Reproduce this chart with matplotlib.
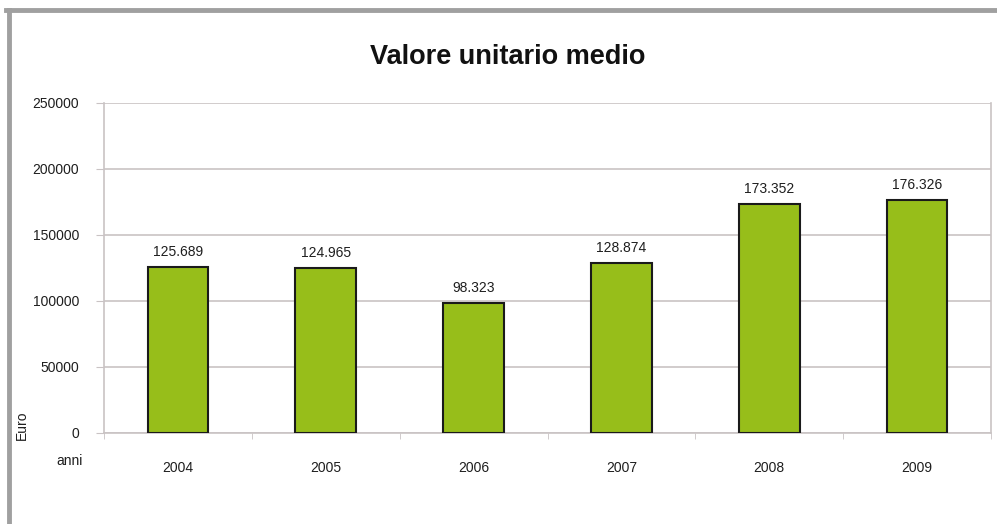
import numpy as np
import matplotlib.pyplot as plt

plt.rcParams['font.family'] = ['Liberation Sans', 'DejaVu Sans']

#%% Data
anni    = ['2004', '2005', '2006', '2007', '2008', '2009']
valori  = [125689, 124965, 98323, 128874, 173352, 176326]
etich   = ['125.689', '124.965', '98.323', '128.874', '173.352', '176.326']
yticks  = [0, 50000, 100000, 150000, 200000, 250000]

#%% Figure
fig = plt.figure(figsize=(9.97, 5.24), dpi=100)
W, H = 997, 524
ax = fig.add_axes([104/W, 1-433/H, (991-104)/W, (433-103)/H])

grid_col = '#c9c3c4'
txt_col  = '#1e1e1e'
x = np.arange(len(anni))
ax.bar(x, valori, width=0.41, color='#97be1a', edgecolor='#1a1a1a', linewidth=1.5, zorder=3)

for xi, v, s in zip(x, valori, etich):
    ax.text(xi, v + 6000, s, ha='center', va='bottom', fontsize=10, color=txt_col)

ax.set_xlim(-0.5, len(anni) - 0.5)
ax.set_ylim(0, 250000)
ax.set_yticks(yticks)
ax.set_yticklabels([str(t) for t in yticks], fontsize=10, color=txt_col)
ax.yaxis.grid(True, color=grid_col, linewidth=1.2, zorder=0)

#### x ticks: labels at centres, marks at category boundaries
ax.set_xticks(x)
ax.set_xticklabels(anni, fontsize=10, color=txt_col)
ax.tick_params(axis='x', length=0, pad=20)
ax.set_xticks(np.arange(-0.5, len(anni)), minor=True)
ax.tick_params(axis='x', which='minor', length=4, color=grid_col, direction='out')
ax.tick_params(axis='y', length=6, color=grid_col, pad=12)

for side in ['left', 'right', 'bottom']:
    ax.spines[side].set_color(grid_col)
    ax.spines[side].set_linewidth(1.2)
ax.spines['top'].set_visible(False)

#### Labels
fig.text(508/W, 1-57/H, 'Valore unitario medio', ha='center', va='center',
         fontsize=19.5, fontweight='bold', color='#111111')
fig.text(22/W, 1-425/H, 'Euro', rotation=90, ha='center', va='center', fontsize=10, color=txt_col)
fig.text(70/W, 1-461/H, 'anni', ha='center', va='center', fontsize=10, color=txt_col)

#### Outer frame (top and left)
fig.add_artist(plt.Line2D([6/W, 1], [1-10/H, 1-10/H], color='#a0a0a0', linewidth=3.5, transform=fig.transFigure))
fig.add_artist(plt.Line2D([9/W, 9/W], [0, 1-10/H], color='#a0a0a0', linewidth=3.5, transform=fig.transFigure))

fig.savefig('out.png', dpi=100)
